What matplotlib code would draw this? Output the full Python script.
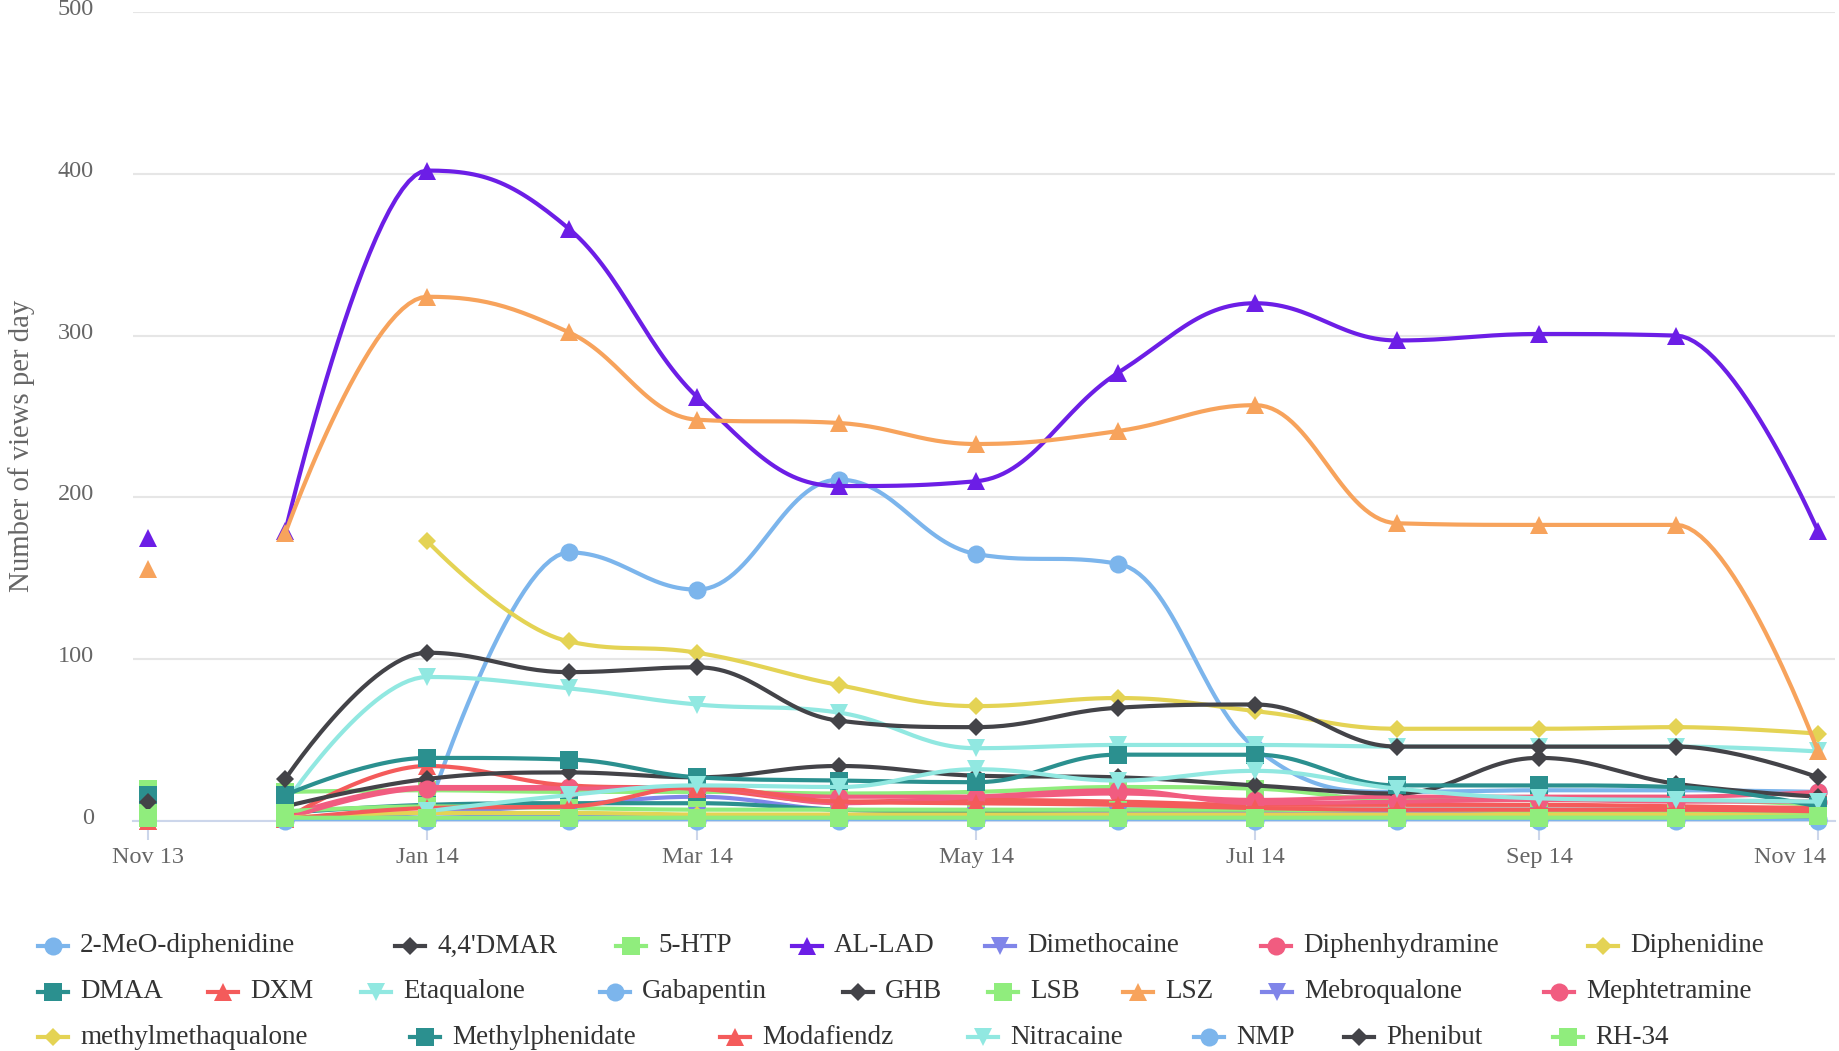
import numpy as np
import pandas as pd
import matplotlib
matplotlib.use("Agg")
import matplotlib.pyplot as plt
import matplotlib.dates as mdates
import matplotlib.transforms as mtransforms
from matplotlib.lines import Line2D

plt.rcParams['font.family'] = ['Liberation Serif', 'DejaVu Serif']

# Monthly samples, Nov 13 .. Nov 14
months = pd.date_range("2013-11-01", "2014-11-01", freq="MS")

# Views per day (None = no data). The Nov 13 sample is not joined to the rest.
s_2meo = [None, None, 5, 166, 143, 211, 165, 159, 45, 18, 19, 19, 18]
s_44dmar = [None, 1, 0, 0, 1, 1, 1, 1, 1, 1, 1, 1, 1]
s_5htp = [20, 18, 19, 18, 18, 17, 18, 21, 20, 13, 13, 13, 10]
s_allad = [175, 179, 402, 366, 262, 207, 210, 277, 320, 297, 301, 300, 179]
s_dimethocaine = [None, 1, 5, 10, 15, 7, 6, 6, 5, 4, 3, 3, 2]
s_diphenhydramine = [None, 3, 21, 21, 20, 15, 15, 17, 13, 15, 15, 15, 18]
s_diphenidine = [None, None, 173, 111, 104, 84, 71, 76, 68, 57, 57, 58, 54]
s_dmaa = [None, 5, 10, 11, 11, 7, 6, 7, 7, 7, 7, 7, 6]
s_dxm = [0, 1, 34, 22, 20, 12, 13, 12, 10, 10, 10, 9, 8]
s_etaqualone = [None, 11, 89, 82, 72, 67, 45, 47, 47, 46, 46, 46, 43]
s_gabapentin = [None, 1, 1, 1, 1, 1, 1, 1, 1, 1, 1, 1, 1]
s_ghb = [None, 9, 26, 30, 27, 34, 28, 27, 22, 17, 39, 23, 15]
s_lsb = [8, 6, 9, 8, 7, 7, 7, 7, 7, 6, 6, 6, 5]
s_lsz = [156, 178, 324, 302, 248, 246, 233, 241, 257, 184, 183, 183, 43]
s_mebroqualone = [None, 0, 2, 3, 3, 3, 3, 3, 3, 5, 3, 2, 2]
s_mephtetramine = [None, 1, 20, 20, 21, 11, 15, 19, 11, 12, 13, 12, 12]
s_methylmethaqualone = [None, 2, 5, 5, 4, 4, 4, 4, 4, 4, 4, 4, 3]
s_methylphenidate = [16, 16, 39, 38, 27, 25, 24, 41, 41, 22, 22, 21, 9]
s_modafiendz = [0, 1, 8, 9, 21, 12, 11, 10, 8, 7, 7, 7, 6]
s_nitracaine = [None, None, 6, 16, 22, 21, 32, 25, 31, 20, 14, 13, 12]
s_nmp = [None, 0, 0, 0, 0, 0, 0, 0, 0, 0, 0, 0, 0]
s_phenibut = [12, 26, 104, 92, 95, 62, 58, 70, 72, 46, 46, 46, 27]
s_rh34 = [2, 2, 2, 2, 2, 2, 2, 2, 2, 2, 2, 2, 3]

names = ["2-MeO-diphenidine", "4,4'DMAR", "5-HTP", "AL-LAD", "Dimethocaine",
         "Diphenhydramine", "Diphenidine", "DMAA", "DXM", "Etaqualone",
         "Gabapentin", "GHB", "LSB", "LSZ", "Mebroqualone", "Mephtetramine",
         "methylmethaqualone", "Methylphenidate", "Modafiendz", "Nitracaine",
         "NMP", "Phenibut", "RH-34"]
series = [s_2meo, s_44dmar, s_5htp, s_allad, s_dimethocaine, s_diphenhydramine,
          s_diphenidine, s_dmaa, s_dxm, s_etaqualone, s_gabapentin, s_ghb, s_lsb,
          s_lsz, s_mebroqualone, s_mephtetramine, s_methylmethaqualone,
          s_methylphenidate, s_modafiendz, s_nitracaine, s_nmp, s_phenibut, s_rh34]

palette = ['#7cb5ec', '#434348', '#90ed7d', '#f7a35c', '#8085e9',
           '#f15c80', '#e4d354', '#2b908f', '#f45b5b', '#91e8e1']
colors = [palette[i % 10] for i in range(len(names))]
colors[3] = '#6c1ee6'  # AL-LAD has its own colour
symbols = ['o', 'D', 's', '^', 'v']
markers = [symbols[i % 5] for i in range(len(names))]

# legend layout (pixel x of each symbol, per row)
legend_x = [[53, 410, 631, 807, 1000, 1276, 1603],
            [53, 223, 376, 615, 858, 1003, 1138, 1277, 1559],
            [53, 425, 735, 983, 1209, 1359, 1568]]
legend_y = [946, 992, 1037]

W, H = 1839, 1051
LW = 3.0
MS = 13


def msize(m):
    return MS * 0.72 if m == 'D' else MS


def spline(xs, ys, n=30):
    """Highcharts-style spline through the points."""
    k = len(xs)
    sm, den = 1.5, 2.5
    left = [None] * k
    right = [None] * k
    for i in range(1, k - 1):
        lx, ly = xs[i - 1], ys[i - 1]
        px, py = xs[i], ys[i]
        nx, ny = xs[i + 1], ys[i + 1]
        lcx, lcy = (sm * px + lx) / den, (sm * py + ly) / den
        rcx, rcy = (sm * px + nx) / den, (sm * py + ny) / den
        corr = (rcy - lcy) * (rcx - px) / (rcx - lcx) + py - rcy
        lcy += corr
        rcy += corr
        if lcy > ly and lcy > py:
            lcy = max(ly, py); rcy = 2 * py - lcy
        elif lcy < ly and lcy < py:
            lcy = min(ly, py); rcy = 2 * py - lcy
        if rcy > ny and rcy > py:
            rcy = max(ny, py); lcy = 2 * py - rcy
        elif rcy < ny and rcy < py:
            rcy = min(ny, py); lcy = 2 * py - rcy
        left[i] = (lcx, lcy)
        right[i] = (rcx, rcy)
    t = np.linspace(0, 1, n)[1:]
    ox, oy = [xs[0]], [ys[0]]
    for i in range(1, k):
        p0 = (xs[i - 1], ys[i - 1])
        p3 = (xs[i], ys[i])
        p1 = right[i - 1] or p0
        p2 = left[i] or p3
        for j, out in ((0, ox), (1, oy)):
            out.extend((1 - t) ** 3 * p0[j] + 3 * (1 - t) ** 2 * t * p1[j]
                       + 3 * (1 - t) * t ** 2 * p2[j] + t ** 3 * p3[j])
    return ox, oy


fig = plt.figure(figsize=(W / 100, H / 100), dpi=100)
ax = fig.add_axes([133 / W, 1 - 821 / H, (1835 - 133) / W, (821 - 12) / H])

xnum = mdates.date2num(months)

for i, (vals, c, m) in enumerate(zip(series, colors, markers)):
    z = 3 + i * 0.01
    # first sample stands alone
    if vals[0] is not None:
        ax.plot([xnum[0]], [vals[0]], ls='none', marker=m, ms=msize(m), color=c,
                mew=0, zorder=z + 0.005, clip_on=False)
    run = []
    for xv, yv in list(zip(xnum[1:], vals[1:])) + [(None, None)]:
        if yv is None:
            if run:
                rx = [p[0] for p in run]
                ry = [p[1] for p in run]
                if len(run) > 1:
                    sx, sy = spline(rx, ry)
                    ax.plot(sx, sy, color=c, lw=LW, solid_joinstyle='round',
                            solid_capstyle='round', zorder=z)
                ax.plot(rx, ry, ls='none', marker=m, ms=msize(m), color=c, mew=0,
                        zorder=z + 0.005, clip_on=False)
            run = []
        else:
            run.append((xv, yv))

ax.set_ylim(0, 500)
ax.set_yticks(range(0, 501, 100))
ax.set_xlim(xnum[0] - 3.3, xnum[-1] + 3.7)
ax.set_xticks(xnum[::2])
ax.xaxis.set_major_formatter(mdates.DateFormatter('%b %y'))

ax.grid(axis='y', color='#e6e6e6', lw=1.5)
ax.set_axisbelow(True)
for s in ['top', 'left', 'right']:
    ax.spines[s].set_visible(False)
ax.spines['bottom'].set_color('#ccd6eb')
ax.spines['bottom'].set_linewidth(1.5)
ax.spines['bottom'].set_zorder(2.5)
ax.tick_params(axis='y', length=0, pad=28, labelsize=17.5, labelcolor='#666666')
ax.tick_params(axis='x', length=14, width=1.5, color='#ccd6eb', pad=5,
               labelsize=17.5, labelcolor='#666666')

# y labels sit a little above their grid lines
up = mtransforms.ScaledTranslation(0, 5 / 100, fig.dpi_scale_trans)
for lab in ax.get_yticklabels():
    lab.set_transform(lab.get_transform() + up)

# keep the last date label inside the chart
fig.canvas.draw()
last = ax.get_xticklabels()[-1]
last.set_horizontalalignment('right')
last.set_transform(last.get_transform()
                   + mtransforms.ScaledTranslation(8 / 100, 0, fig.dpi_scale_trans))

ax.set_ylabel('Number of views per day', fontsize=20.7, color='#666666')
ax.yaxis.set_label_coords(35 / W, 1 - 446 / H, transform=fig.transFigure)

# legend drawn by hand to follow the source's flowing rows
k = 0
for row, ypx in zip(legend_x, legend_y):
    for xpx in row:
        fy = 1 - ypx / H
        fig.add_artist(Line2D([(xpx - 15) / W, (xpx + 15) / W], [fy, fy],
                              color=colors[k], lw=LW, transform=fig.transFigure))
        fig.add_artist(Line2D([xpx / W], [fy], ls='none', marker=markers[k],
                              ms=msize(markers[k]), mew=0, color=colors[k],
                              transform=fig.transFigure))
        fig.text((xpx + 27) / W, fy, names[k], fontsize=19.5, color='#333333',
                 va='center', ha='left')
        k += 1

fig.savefig('out.png', dpi=100)
